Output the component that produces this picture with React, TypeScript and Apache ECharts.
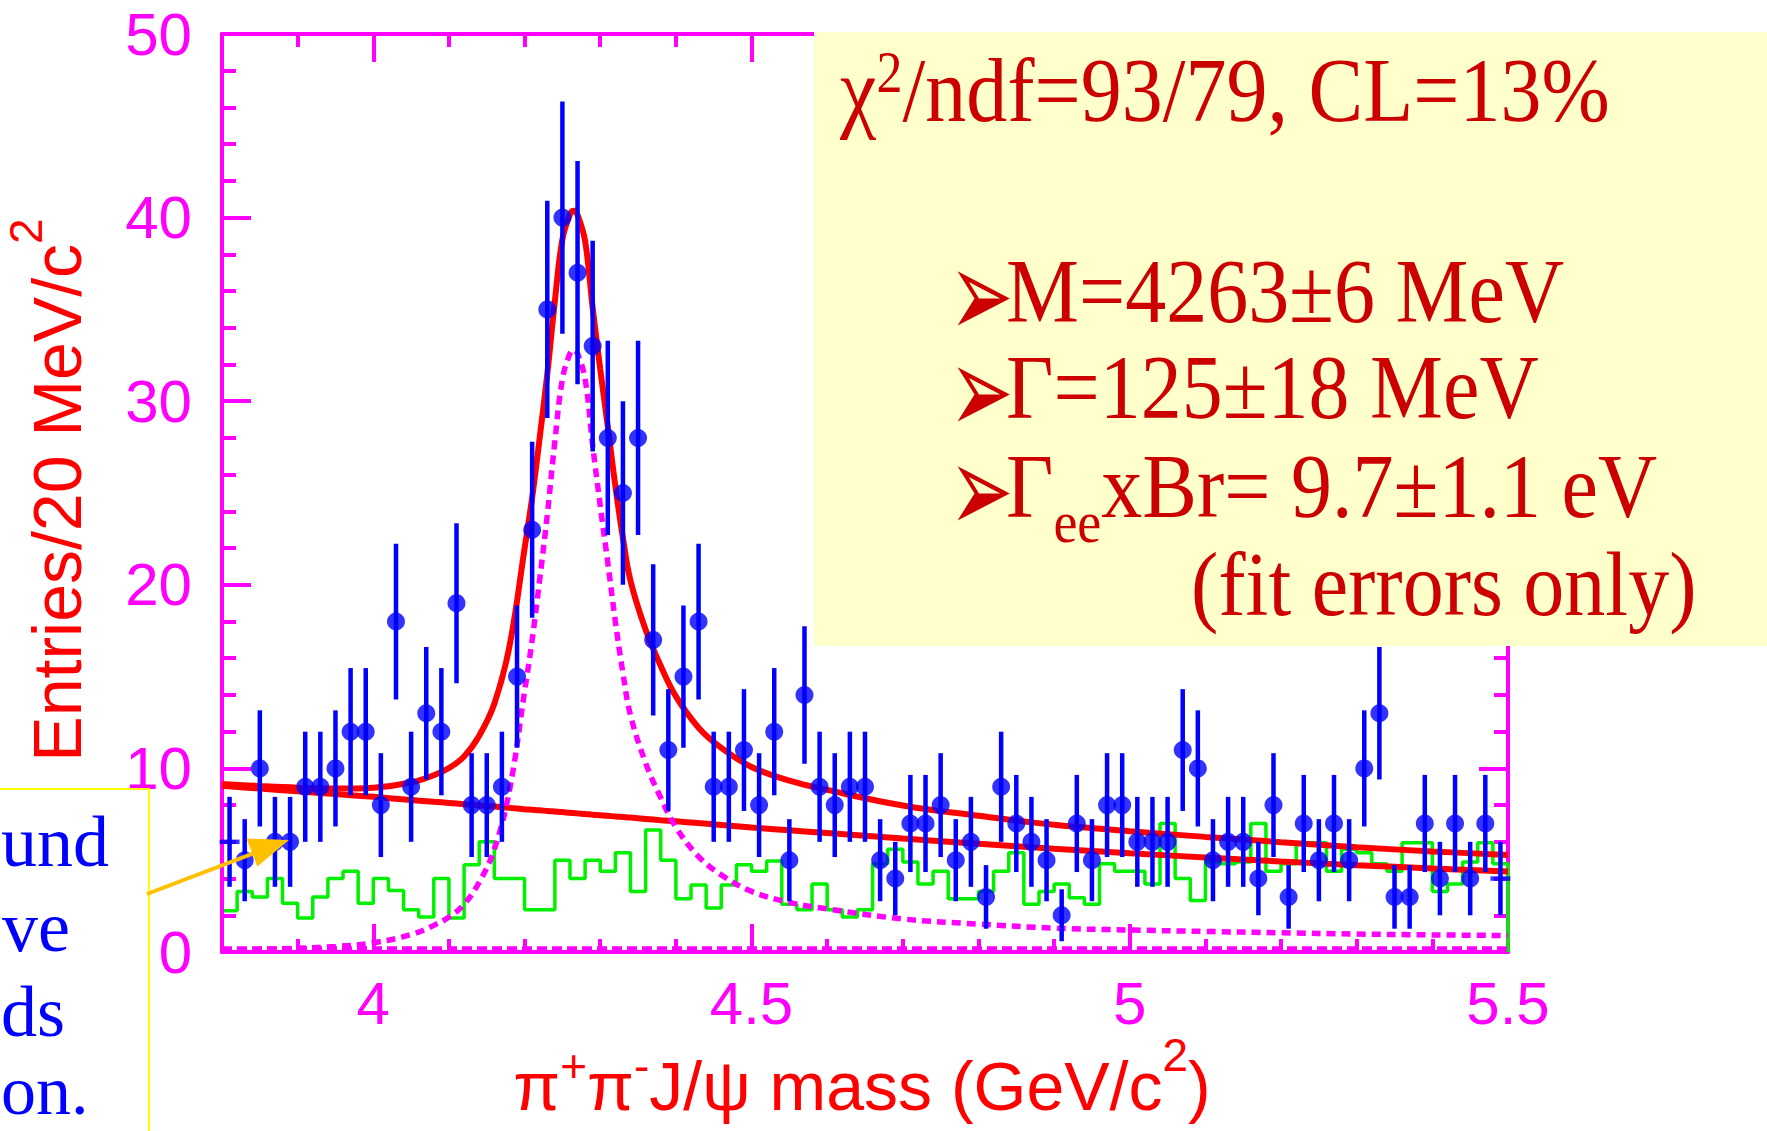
import React, { useEffect, useRef } from 'react';
import * as echarts from 'echarts';

// ---------- data ----------
const BIN_START = 3.8; // GeV/c^2, low edge of first 20 MeV bin
const BIN_WIDTH = 0.02;

// entries per 20 MeV bin (data points)
const counts = [
  6, 5, 10, 6, 6, 9, 9, 10, 12, 12,
  8, 18, 9, 13, 12, 19, 8, 8, 9, 15,
  23, 35, 40, 37, 33, 28, 25, 28, 17, 11,
  15, 18, 9, 9, 11, 8, 12, 5, 14, 9,
  8, 9, 9, 5, 4, 7, 7, 8, 5, 6,
  3, 9, 7, 6, 5, 2, 7, 5, 8, 8,
  6, 6, 6, 11, 10, 5, 6, 6, 4, 8,
  3, 7, 5, 7, 5, 10, 13, 3, 3, 7,
  4, 7, 4, 7, 4,
];
// bins drawn with a cross instead of a dot
const crossBins = [0, 84];

// green histogram (sideband background), per bin
const sidebandBg = [
  2.25, 3.3, 3.0, 4.0, 2.65, 1.85, 3.0, 4.0, 4.4, 2.65,
  4.0, 3.35, 2.3, 1.9, 4.0, 1.85, 4.75, 6.0, 4.0, 4.0,
  2.3, 2.3, 5.0, 4.0, 5.0, 4.4, 5.4, 3.3, 6.65, 5.0,
  2.9, 3.65, 2.4, 3.65, 4.75, 4.4, 4.95, 2.6, 2.3, 3.7,
  2.3, 1.9, 2.3, 4.8, 5.6, 4.9, 3.7, 4.4, 2.9, 2.9,
  3.3, 4.4, 5.4, 2.6, 3.3, 3.7, 2.95, 2.6, 4.8, 4.4,
  4.4, 3.7, 7.0, 4.0, 2.8, 4.9, 4.8, 4.9, 7.0, 4.4,
  4.8, 5.95, 5.95, 4.4, 5.6, 5.4, 4.8, 4.4, 5.95, 5.95,
  3.3, 3.7, 4.9, 5.95, 4.8,
];

// fit curves
const fitMass = [
  3.8, 3.85, 3.9, 3.95, 4.0, 4.05, 4.08, 4.1, 4.12, 4.14,
  4.16, 4.18, 4.2, 4.21, 4.22, 4.23, 4.24, 4.25, 4.26, 4.265,
  4.27, 4.28, 4.29, 4.3, 4.31, 4.32, 4.33, 4.34, 4.36, 4.38,
  4.4, 4.43, 4.46, 4.5, 4.55, 4.6, 4.7, 4.8, 4.9, 5.0,
  5.1, 5.2, 5.3, 5.4, 5.5,
];
const bgFit = [
  9.05, 8.9, 8.75, 8.6, 8.45, 8.28, 8.18, 8.12, 8.05, 7.98,
  7.92, 7.85, 7.78, 7.75, 7.72, 7.68, 7.65, 7.62, 7.58, 7.57,
  7.55, 7.52, 7.48, 7.45, 7.42, 7.38, 7.35, 7.32, 7.25, 7.18,
  7.12, 7.02, 6.92, 6.78, 6.63, 6.48, 6.18, 5.9, 5.63, 5.38,
  5.15, 4.93, 4.73, 4.55, 4.38,
];
const signalFit = [
  0.1, 0.14, 0.2, 0.3, 0.5, 0.95, 1.45, 1.9, 2.6, 3.8,
  5.6, 8.8, 14.2, 17.0, 20.3, 23.8, 27.8, 31.2, 32.6, 32.8,
  32.6, 31.2, 27.6, 24.3, 21.2, 18.0, 15.2, 12.9, 10.3, 8.4,
  6.8, 5.2, 4.2, 3.3, 2.7, 2.35, 1.8, 1.52, 1.3, 1.2,
  1.12, 1.05, 0.98, 0.93, 0.9,
];
const floorLevel = 0.2;

const xMajorTicks = [4, 4.5, 5, 5.5];
const xMinorTicks = [3.9, 4.1, 4.2, 4.3, 4.4, 4.6, 4.7, 4.8, 4.9, 5.1, 5.2, 5.3, 5.4];
const yTicks = [0, 10, 20, 30, 40, 50];

// ---------- styling ----------
const MAGENTA = '#ff00ff';
const RED = '#ff0000';
const BLUE = '#0000ff';
const GREEN = '#00f000';
const DARKRED = '#cc0000';
const SANS = 'Liberation Sans, Arial, Helvetica, sans-serif';
const SERIF = 'Liberation Serif, Times New Roman, serif';

function boxText(text: string, x: number, y: number, size: number, extra: any = {}) {
  return {
    type: 'text', z: 101, x, y, scaleY: 1.1, originY: Math.round(size * 0.34),
    style: { text, fontSize: size, fontFamily: SERIF, fill: DARKRED, align: 'left', verticalAlign: 'middle', ...extra },
  };
}

function buildOption() {
  const centers = counts.map((_, i) => BIN_START + BIN_WIDTH * (i + 0.5));
  const dots = counts
    .map((c, i) => [centers[i], c, i])
    .filter((d) => !crossBins.includes(d[2] as number))
    .map((d) => [d[0], d[1]]);
  const crosses = crossBins.map((i) => [centers[i], counts[i]]);
  const errBars = counts.map((c, i) => [centers[i], c - Math.sqrt(c), c + Math.sqrt(c)]);

  const hist: number[][] = [[BIN_START, 0]];
  sidebandBg.forEach((v, i) => {
    const lo = BIN_START + i * BIN_WIDTH;
    hist.push([lo, v], [lo + BIN_WIDTH, v]);
  });
  hist.push([BIN_START + sidebandBg.length * BIN_WIDTH, 0]);

  const bgLine = fitMass.map((m, i) => [m, bgFit[i]]);
  const sigLine = fitMass.map((m, i) => [m, signalFit[i]]);
  const totLine = fitMass.map((m, i) => [m, bgFit[i] + signalFit[i]]);

  const axisLineStyle = { color: MAGENTA, width: 4 };
  const baseX = {
    type: 'value',
    min: 3.8,
    max: 5.5,
    splitLine: { show: false },
    axisLine: { show: false, onZero: false, lineStyle: axisLineStyle },
  };

  const xAxes = [
    {
      ...baseX,
      position: 'bottom',
      axisLine: { show: true, onZero: false, lineStyle: axisLineStyle },
      axisTick: { show: true, inside: true, length: 28, customValues: xMajorTicks, lineStyle: axisLineStyle },
      axisLabel: {
        show: true,
        customValues: xMajorTicks,
        formatter: (v: number) => String(v),
        color: MAGENTA,
        fontSize: 60,
        fontFamily: SANS,
        margin: 21,
      },
    },
    {
      ...baseX,
      position: 'bottom',
      axisTick: { show: true, inside: true, length: 13, customValues: xMinorTicks, lineStyle: axisLineStyle },
      axisLabel: { show: false, customValues: xMinorTicks },
    },
    {
      ...baseX,
      position: 'top',
      axisLine: { show: true, onZero: false, lineStyle: axisLineStyle },
      axisTick: { show: true, inside: true, length: 28, customValues: xMajorTicks, lineStyle: axisLineStyle },
      axisLabel: { show: false, customValues: xMajorTicks },
    },
    {
      ...baseX,
      position: 'top',
      axisTick: { show: true, inside: true, length: 13, customValues: xMinorTicks, lineStyle: axisLineStyle },
      axisLabel: { show: false, customValues: xMinorTicks },
    },
  ];

  const baseY = {
    type: 'value',
    min: yTicks[0],
    max: yTicks[yTicks.length - 1],
    interval: 10,
    splitLine: { show: false },
    axisLine: { show: true, onZero: false, lineStyle: axisLineStyle },
    axisTick: { show: true, inside: true, length: 29, lineStyle: axisLineStyle },
    minorTick: { show: true, splitNumber: 5, length: 14, lineStyle: axisLineStyle },
  };
  const yAxes = [
    {
      ...baseY,
      position: 'left',
      z: 3,
      axisLabel: { show: true, color: MAGENTA, fontSize: 60, fontFamily: SANS, margin: 30 },
    },
    { ...baseY, position: 'right', axisLabel: { show: false } },
  ];

  const graphic: any[] = [
    // yellow results box
    { type: 'rect', z: 100, shape: { x: 814, y: 32, width: 960, height: 614 }, style: { fill: '#ffffcc' } },
    {
      type: 'text', z: 101, x: 840, y: 93, scaleY: 1.12, originY: 27,
      style: {
        text: '{t|χ}{s|2}{t|/ndf=93/79, CL=13%}',
        align: 'left', verticalAlign: 'middle',
        rich: {
          t: { fontSize: 82, fontFamily: SERIF, fill: DARKRED },
          s: { fontSize: 52, fontFamily: SERIF, fill: DARKRED, padding: [0, 0, 30, 0] },
        },
      },
    },
    ...[294, 390, 489].map((y) => ({
      type: 'text', z: 101, x: 949, y, scaleY: 1.6,
      style: { text: '➢', fontSize: 77, fontFamily: 'DejaVu Sans', fill: DARKRED, align: 'left', verticalAlign: 'middle' },
    })),
    boxText('M=4263±6 MeV', 1006, 294, 82),
    boxText('Γ=125±18 MeV', 1006, 390, 82),
    {
      type: 'text', z: 101, x: 1006, y: 489, scaleY: 1.1, originY: 28,
      style: {
        text: '{t|Γ}{b|ee}{t|xBr= 9.7±1.1 eV}',
        align: 'left', verticalAlign: 'middle',
        rich: {
          t: { fontSize: 82, fontFamily: SERIF, fill: DARKRED },
          b: { fontSize: 54, fontFamily: SERIF, fill: DARKRED, padding: [64, 0, 0, 0] },
        },
      },
    },
    boxText('(fit errors only)', 1191, 587, 82),
    // left annotation box (mostly outside the page)
    { type: 'rect', z: 100, shape: { x: -20, y: 789, width: 169, height: 400 }, style: { fill: '#ffffff', stroke: '#ffff00', lineWidth: 2 } },
    ...[
      ['und', 1, 842, 72],
      ['ve', 2, 927, 72],
      ['ds', 1, 1012, 72],
      ['on.', 1, 1090, 70],
    ].map(([t, x, y, s]) => ({
      type: 'text', z: 101, x: x as number, y: y as number,
      style: {
        text: t as string, fontSize: s as number, lineHeight: 60, fontFamily: SERIF, fill: BLUE,
        align: 'left', verticalAlign: 'middle',
      },
    })),
    // orange arrow
    { type: 'line', z: 102, shape: { x1: 147, y1: 894, x2: 262, y2: 850 }, style: { stroke: '#ffc000', lineWidth: 4 } },
    {
      type: 'polygon', z: 102,
      shape: { points: [[289, 840], [246.5, 838.6], [257.3, 866.6]] },
      style: { fill: '#ffc000' },
    },
    // axis titles
    {
      type: 'text', z: 50, x: 862, y: 1086,
      style: {
        text: '{a|π}{p|+}{a|π}{p|-}{a|J/ψ mass (GeV/c}{s|2}{a|)}',
        align: 'center', verticalAlign: 'middle',
        rich: {
          a: { fontSize: 68, fontFamily: SANS, fill: RED },
          p: { fontSize: 46, fontFamily: SANS, fill: RED, padding: [0, 0, 40, 0] },
          s: { fontSize: 46, fontFamily: SANS, fill: RED, padding: [0, 0, 63, 0] },
        },
      },
    },
    {
      type: 'text', z: 50, x: 57, y: 490, rotation: Math.PI / 2,
      style: {
        text: '{a|Entries/20 MeV/c}{s|2}',
        align: 'center', verticalAlign: 'middle',
        rich: {
          a: { fontSize: 68, fontFamily: SANS, fill: RED },
          s: { fontSize: 46, fontFamily: SANS, fill: RED, padding: [0, 0, 63, 0] },
        },
      },
    },
  ];

  return {
    animation: false,
    backgroundColor: '#ffffff',
    grid: { left: 222, top: 34, width: 1286, height: 918, containLabel: false },
    xAxis: xAxes,
    yAxis: yAxes,
    graphic: { elements: graphic },
    series: [
      {
        name: 'sideband', type: 'line', data: hist, symbol: 'none', z: 2,
        lineStyle: { color: GREEN, width: 3.5 },
      },
      {
        name: 'floor', type: 'line', data: [[3.8, floorLevel], [5.5, floorLevel]], symbol: 'none', z: 2,
        lineStyle: { color: MAGENTA, width: 4, type: [10, 5] },
      },
      {
        name: 'background fit', type: 'line', data: bgLine, symbol: 'none', smooth: 0.4, z: 3,
        lineStyle: { color: RED, width: 6 },
      },
      {
        name: 'total fit', type: 'line', data: totLine, symbol: 'none', smooth: 0.4, z: 3,
        lineStyle: { color: RED, width: 6 },
      },
      {
        name: 'signal', type: 'line', data: sigLine, symbol: 'none', smooth: 0.4, z: 4,
        lineStyle: { color: MAGENTA, width: 5.5, type: [9, 6] },
      },
      {
        name: 'errors', type: 'custom', z: 5,
        data: errBars,
        encode: { x: 0, y: [1, 2] },
        renderItem: (_p: any, api: any) => {
          const x = api.value(0);
          const a = api.coord([x, api.value(1)]);
          const b = api.coord([x, api.value(2)]);
          return {
            type: 'line',
            shape: { x1: a[0], y1: a[1], x2: b[0], y2: b[1] },
            style: { stroke: BLUE, lineWidth: 4.5 },
          };
        },
      },
      {
        name: 'data', type: 'scatter', data: dots, symbol: 'circle', symbolSize: 18, z: 6,
        itemStyle: { color: BLUE },
      },
      {
        name: 'data (edge bins)', type: 'scatter', data: crosses, symbol: 'rect', symbolSize: [20, 4.5], z: 6,
        itemStyle: { color: BLUE },
      },
    ],
  };
}

export default function App() {
  const ref = useRef<HTMLDivElement>(null);
  useEffect(() => {
    if (!ref.current) return;
    const chart = echarts.init(ref.current, undefined, { renderer: 'svg' });
    chart.setOption(buildOption() as any);
    return () => chart.dispose();
  }, []);
  return (
    <div
      ref={ref}
      style={{ position: 'absolute', left: 0, top: 0, width: 1767, height: 1131, background: '#fff', overflow: 'hidden' }}
    />
  );
}
